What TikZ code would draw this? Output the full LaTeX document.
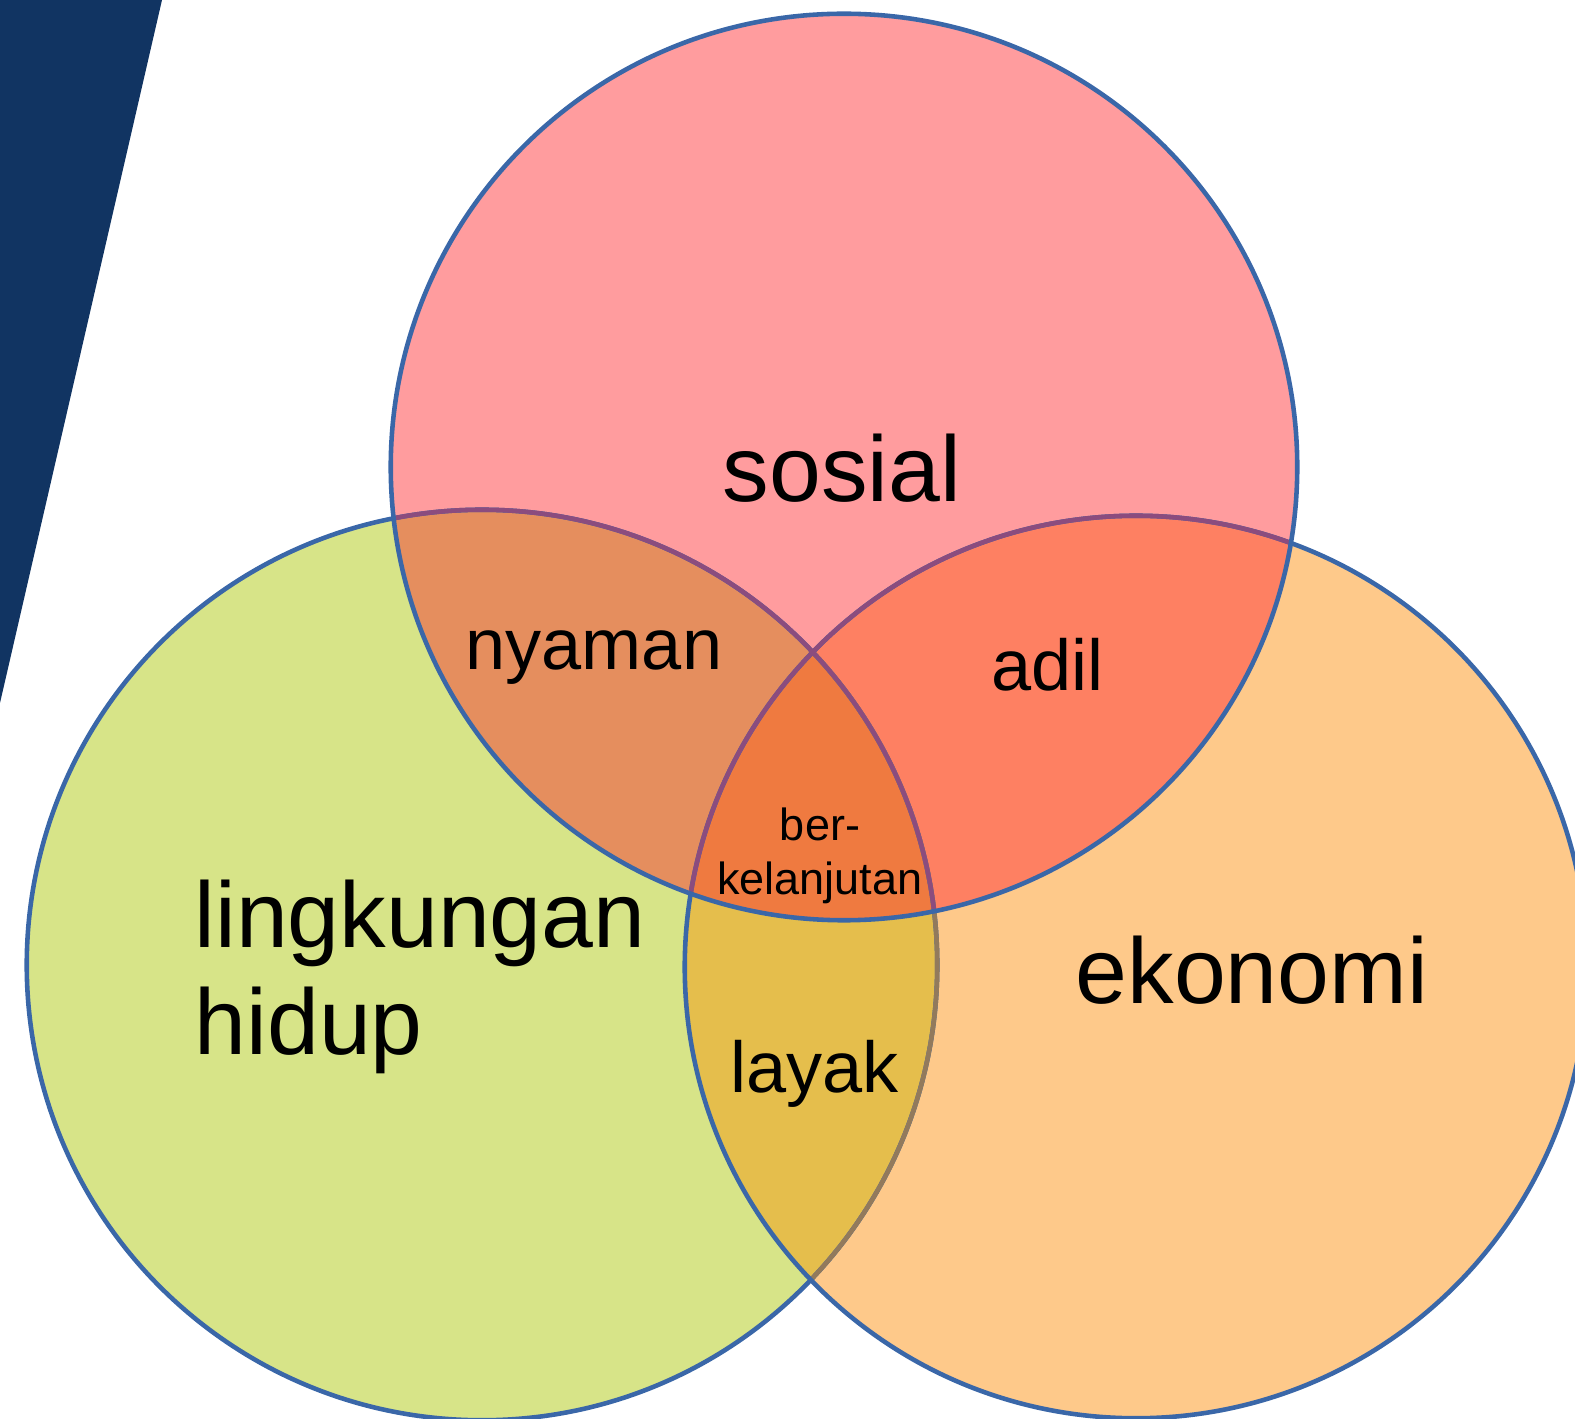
\documentclass[tikz,border=0pt]{standalone}
\usepackage{fontspec}
\setmainfont{Liberation Sans}
\definecolor{navyband}{HTML}{113462}
\definecolor{sosialfill}{HTML}{FF9C9E}
\definecolor{lingfill}{HTML}{D7E488}
\definecolor{ekofill}{HTML}{FEC98A}
\definecolor{nyamanfill}{HTML}{E58E5E}
\definecolor{adilfill}{HTML}{FE8062}
\definecolor{layakfill}{HTML}{E5BE4C}
\definecolor{centerfill}{HTML}{EF7A40}
\definecolor{rimblue}{HTML}{3A67A8}
\definecolor{rimpurple}{HTML}{8B4C7E}
\definecolor{rimbrown}{HTML}{927A5C}
\newcommand\radT{4.53cm}
\newcommand\radL{4.55cm}
\newcommand\radR{4.51cm}
\tikzset{
  rim/.style={line width=1.3pt},
  bigtext/.style={font=\fontsize{26.5}{30.7}\selectfont, inner sep=0pt, anchor=base west},
  midtext/.style={font=\fontsize{20.5}{24}\selectfont, inner sep=0pt, anchor=base west},
  smalltext/.style={font=\fontsize{12.8}{15.6}\selectfont, inner sep=0pt, align=center, anchor=base},
}
\begin{document}
\begin{tikzpicture}[x=0.01cm,y=-0.01cm]
\useasboundingbox (0,0) rectangle (1575,1419);
\clip (0,0) rectangle (1575,1419);
\fill[navyband] (0,0) -- (162,0) -- (0,703) -- cycle;
\coordinate (cT) at (844,467);
\coordinate (cL) at (482,965);
\coordinate (cR) at (1136,967);
% base fills
\fill[lingfill] (cL) circle[radius=\radL];
\fill[ekofill] (cR) circle[radius=\radR];
\fill[sosialfill] (cT) circle[radius=\radT];
% pair overlaps
\begin{scope}
  \clip (cT) circle[radius=\radT];
  \fill[nyamanfill] (cL) circle[radius=\radL];
  \fill[adilfill] (cR) circle[radius=\radR];
\end{scope}
\begin{scope}
  \clip (cL) circle[radius=\radL];
  \fill[layakfill] (cR) circle[radius=\radR];
  \clip (cR) circle[radius=\radR];
  \fill[centerfill] (cT) circle[radius=\radT];
\end{scope}
% rims
\draw[rim, rimblue] (cL) circle[radius=\radL];
\begin{scope}
  \clip (cR) circle[radius=\radR];
  \draw[rim, rimbrown] (cL) circle[radius=\radL];
\end{scope}
\draw[rim, rimblue] (cR) circle[radius=\radR];
\begin{scope}
  \clip (cT) circle[radius=\radT];
  \draw[rim, rimpurple] (cL) circle[radius=\radL];
  \draw[rim, rimpurple] (cR) circle[radius=\radR];
\end{scope}
\draw[rim, rimblue] (cT) circle[radius=\radT];
% labels
\node[bigtext] (sosial) at (722,502) {sosial};
\node[bigtext, align=left] (ling) at (194,1055) {lingkungan\\hidup};
\node[bigtext] (ekonomi) at (1075,1004) {ekonomi};
\node[midtext] (nyaman) at (465,670) {nyaman};
\node[midtext] (adil) at (991,691) {adil};
\node[midtext] (layak) at (730,1093) {layak};
\node[smalltext] (berk) at (820,895) {ber-\\kelanjutan};
\end{tikzpicture}
\end{document}
